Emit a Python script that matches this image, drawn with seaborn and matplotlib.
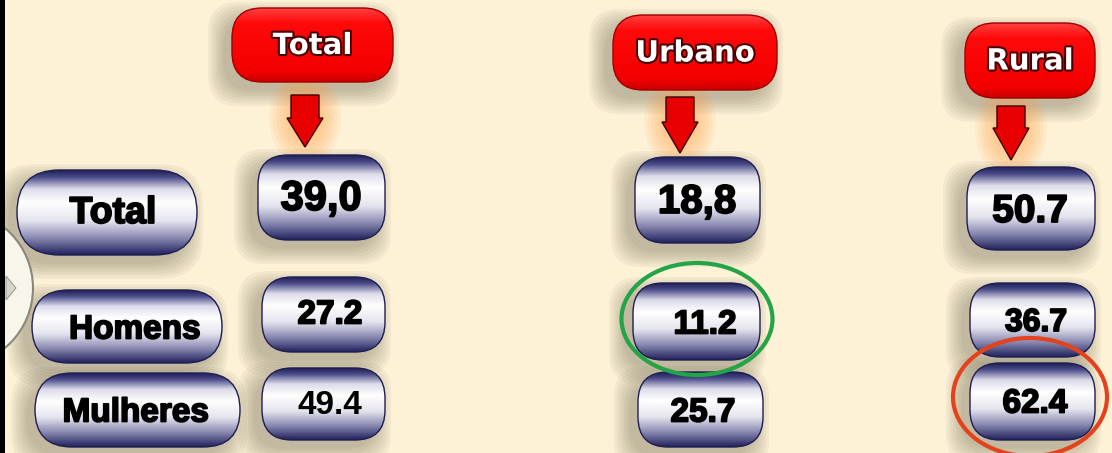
import numpy as np
import matplotlib.pyplot as plt
import matplotlib.patheffects as pe
from matplotlib.patches import FancyBboxPatch, Ellipse, Polygon, Circle, Rectangle
from matplotlib.colors import LinearSegmentedColormap
import seaborn as sns

# ── Data ─────────────────────────────────────────────────────────────────────
columns = ["Total", "Urbano", "Rural"]
rows = ["Total", "Homens", "Mulheres"]
total_values = ["39,0", "27.2", "49.4"]
urban_values = ["18,8", "11.2", "25.7"]
rural_values = ["50.7", "36.7", "62.4"]
circled = [("Urbano", "Homens"), ("Rural", "Mulheres")]

values = {"Total": total_values, "Urbano": urban_values, "Rural": rural_values}

# ── Layout (pixels, y downwards) ─────────────────────────────────────────────
head_box = {"Total": (232, 8, 161, 74), "Urbano": (613, 15, 164, 75), "Rural": (965, 23, 130, 75)}
arrow_geo = {  # tip x, top y, head-start y, tip y
    "Total": (305, 95, 118, 147),
    "Urbano": (680, 97, 122, 153),
    "Rural": (1011, 106, 128, 160),
}
cell_box = {
    "Total": [(258, 155, 127, 85), (262, 277, 123, 75), (262, 368, 123, 72)],
    "Urbano": [(635, 157, 125, 86), (633, 283, 127, 77), (638, 372, 125, 75)],
    "Rural": [(967, 167, 128, 83), (970, 283, 125, 74), (970, 363, 125, 77)],
}
text_pos = {
    "Total": [(321, 199, 30), (330, 315, 24), (330, 406, 24)],
    "Urbano": [(697, 202, 29), (705, 325, 24), (703, 413, 24)],
    "Rural": [(1030, 212, 28), (1036, 323, 23), (1035, 404, 24)],
}
row_box = [(17, 170, 180, 85), (32, 290, 190, 73), (35, 373, 205, 74)]
row_text = [(113, 213, 27), (135, 330, 24), (136, 413, 24)]
ring = {("Urbano", "Homens"): ((697, 319), 151, 112, "#23a447"),
        ("Rural", "Mulheres"): ((1030, 397), 154, 118, "#e4421c")}

BG = "#fdf2d6"
sns.set_theme(style="white")
plt.rcParams["font.family"] = ["Liberation Sans", "DejaVu Sans"]

navy = LinearSegmentedColormap.from_list("navy", [
    (0.0, "#20205a"), (0.08, "#4a4a88"), (0.22, "#dcdcea"), (0.38, "#ffffff"),
    (0.6, "#e4e4ee"), (0.8, "#8a8ab2"), (1.0, "#22225e")])
red = LinearSegmentedColormap.from_list("red", [
    (0.0, "#ff4040"), (0.2, "#ff0a0a"), (0.85, "#f50000"), (1.0, "#c80000")])

heavy = [pe.Stroke(linewidth=1.3, foreground="black"), pe.Normal()]


def shadow(ax, x0, y0, w, h, r):
    for i in range(7):
        s = FancyBboxPatch((x0 - 9, y0 + 9), w, h,
                           boxstyle=f"round,pad={i * 2.5},rounding_size={r}",
                           fc="#5e5744", ec="none", alpha=0.06, zorder=1)
        ax.add_patch(s)


def pill(ax, x0, y0, w, h, r, cmap, edge):
    shadow(ax, x0, y0, w, h, r)
    p = FancyBboxPatch((x0, y0), w, h, boxstyle=f"round,pad=0,rounding_size={r}",
                       fc="none", ec=edge, lw=1.0, zorder=4)
    ax.add_patch(p)
    grad = np.linspace(0, 1, 200).reshape(-1, 1)
    im = ax.imshow(grad, extent=(x0, x0 + w, y0 + h, y0), cmap=cmap, aspect="auto",
                   interpolation="bicubic", zorder=3)
    im.set_clip_path(p)


def glow(ax, cx, cy, w, h):
    for i in range(9):
        k = 1 - i / 10
        ax.add_patch(Ellipse((cx, cy), w * k, h * k, fc="#ff9a40", ec="none",
                             alpha=0.09, zorder=2))


fig = plt.figure(figsize=(11.12, 4.53), dpi=100, facecolor=BG)
ax = fig.add_axes([0, 0, 1, 1])
ax.set_facecolor(BG)

# left decoration
ax.add_patch(Circle((-45, 288), 78, fc="#f8f6ea", ec="#8a877a", lw=1.5, zorder=2))
ax.add_patch(Polygon([(6, 276), (16, 288), (6, 300)], closed=True, fc="#d8d6cc",
                     ec="#a09e94", lw=0.8, zorder=2))
ax.add_patch(Rectangle((0, 0), 5, 453, fc="black", ec="none", zorder=10))

# row labels
for (x0, y0, w, h), (tx, ty, fs), name in zip(row_box, row_text, rows):
    pill(ax, x0, y0, w, h, h / 2, navy, "#1e1e50")
    ax.text(tx, ty, name, ha="center", va="center", fontsize=fs, fontweight="bold",
            color="black", zorder=6, path_effects=heavy)

# columns
for col in columns:
    hx, hy, hw, hh = head_box[col]
    tip_x, top_y, head_y, tip_y = arrow_geo[col]
    glow(ax, tip_x, (top_y + tip_y) / 2 - 4, 72, 100)
    pill(ax, hx, hy, hw, hh, 30, red, "#a00000")
    ax.text(hx + hw / 2, hy + hh / 2 + 1, col, ha="center", va="center", fontsize=21,
            fontweight="bold", family=["DejaVu Sans"], color="white", zorder=6,
            path_effects=[pe.Stroke(linewidth=3, foreground="#4a0000"), pe.Normal()])
    arrow = Polygon([(tip_x - 14, top_y), (tip_x + 14, top_y), (tip_x + 14, head_y),
                     (tip_x + 18, head_y), (tip_x, tip_y), (tip_x - 18, head_y),
                     (tip_x - 14, head_y)], closed=True, fc="#e80000", ec="#3a0000",
                    lw=1.0, zorder=5)
    ax.add_patch(arrow)

    for (x0, y0, w, h), (tx, ty, fs), val, row in zip(cell_box[col], text_pos[col], values[col], rows):
        pill(ax, x0, y0, w, h, 30, navy, "#1e1e50")
        light = val == "49.4"
        ax.text(tx, ty, val, ha="center", va="center", fontsize=fs,
                fontweight="bold", color="black", zorder=6,
                path_effects=None if light else heavy)
        if (col, row) in circled:
            c, w_e, h_e, ec = ring[(col, row)]
            ax.add_patch(Ellipse(c, w_e, h_e, fc="none", ec=ec, lw=3, zorder=7))

ax.set_xlim(0, 1112)
ax.set_ylim(453, 0)
ax.axis("off")
fig.savefig("out.png", dpi=100, facecolor=BG)
